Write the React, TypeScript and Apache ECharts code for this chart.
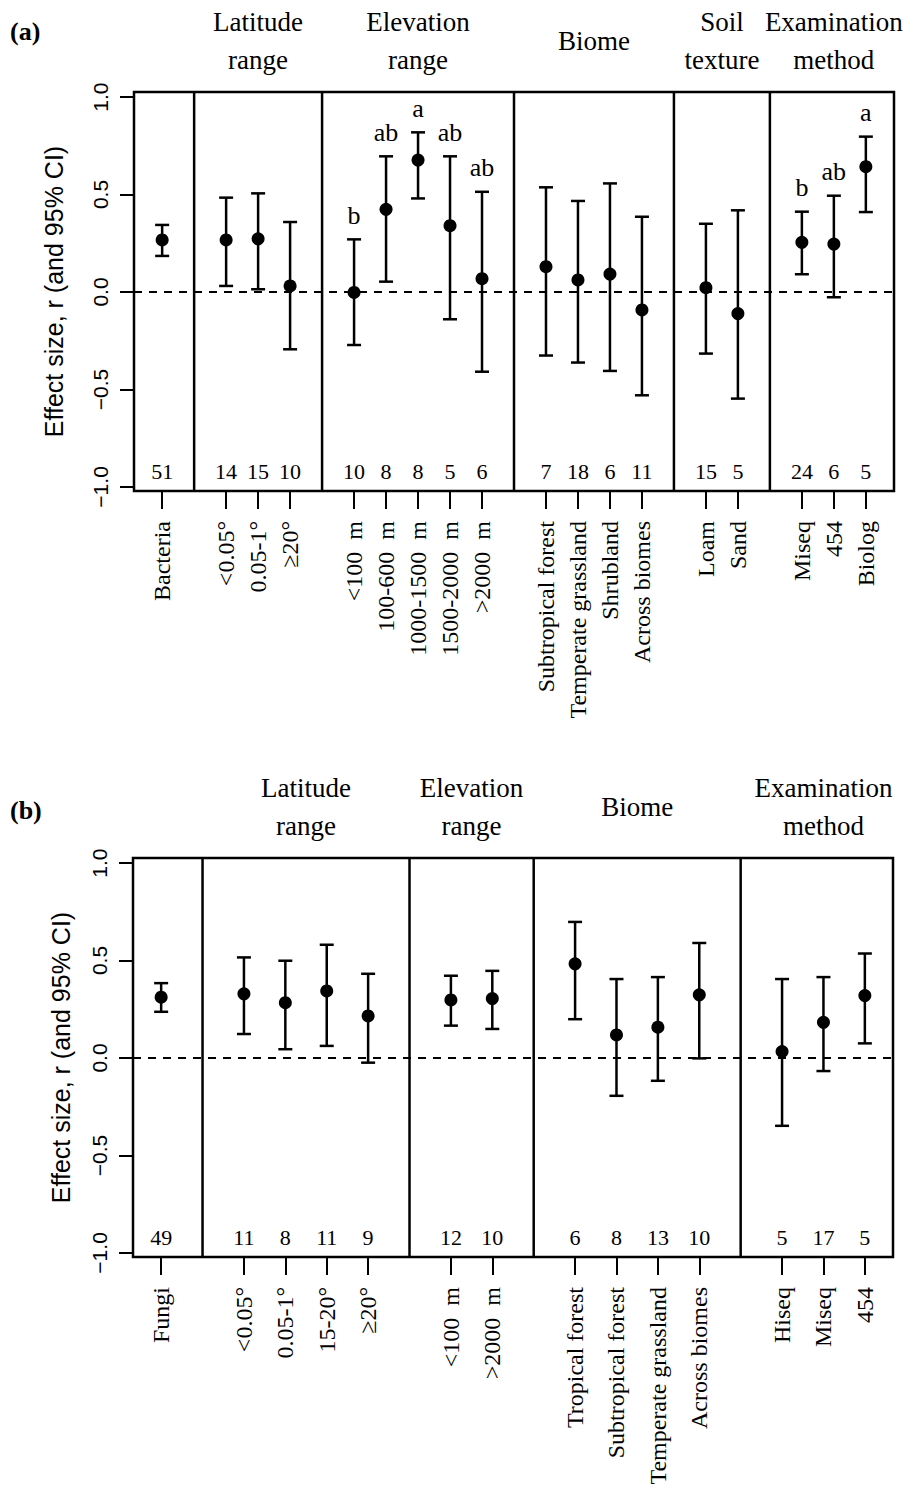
import React, { useEffect, useRef } from "react";
import * as echarts from "echarts";

const SERIF = '"Liberation Serif", "Times New Roman", serif';
const SANS = '"Liberation Sans", Arial, Helvetica, sans-serif';

// ---------- Panel (a): Bacteria ----------
const labelsA = ["Bacteria", "<0.05°", "0.05-1°", "≥20°", "<100  m", "100-600  m", "1000-1500  m", "1500-2000  m", ">2000  m", "Subtropical forest", "Temperate grassland", "Shrubland", "Across biomes", "Loam", "Sand", "Miseq", "454", "Biolog"];
const meanA = [0.267, 0.267, 0.273, 0.031, -0.002, 0.424, 0.677, 0.34, 0.068, 0.13, 0.062, 0.092, -0.092, 0.022, -0.111, 0.255, 0.246, 0.643];
const lowerA = [0.185, 0.031, 0.014, -0.294, -0.272, 0.053, 0.48, -0.14, -0.409, -0.326, -0.362, -0.405, -0.53, -0.316, -0.547, 0.091, -0.027, 0.41];
const upperA = [0.344, 0.484, 0.506, 0.359, 0.27, 0.696, 0.819, 0.696, 0.514, 0.537, 0.467, 0.557, 0.386, 0.35, 0.419, 0.412, 0.494, 0.797];
const nA = [51, 14, 15, 10, 10, 8, 8, 5, 6, 7, 18, 6, 11, 15, 5, 24, 6, 5];
const lettersA = ["", "", "", "", "b", "ab", "a", "ab", "ab", "", "", "", "", "", "", "b", "ab", "a"];
const groupTitlesA = ["", "Latitude\nrange", "Elevation\nrange", "Biome", "Soil\ntexture", "Examination\nmethod"];
const groupSizesA = [1, 3, 5, 4, 2, 3];

// ---------- Panel (b): Fungi ----------
const labelsB = ["Fungi", "<0.05°", "0.05-1°", "15-20°", "≥20°", "<100  m", ">2000  m", "Tropical forest", "Subtropical forest", "Temperate grassland", "Across biomes", "Hiseq", "Miseq", "454"];
const meanB = [0.312, 0.329, 0.284, 0.344, 0.216, 0.298, 0.305, 0.483, 0.118, 0.158, 0.324, 0.033, 0.183, 0.32];
const lowerB = [0.237, 0.123, 0.045, 0.062, -0.024, 0.166, 0.149, 0.199, -0.194, -0.117, -0.002, -0.348, -0.067, 0.075];
const upperB = [0.384, 0.516, 0.499, 0.581, 0.432, 0.422, 0.447, 0.698, 0.405, 0.415, 0.59, 0.405, 0.415, 0.536];
const nB = [49, 11, 8, 11, 9, 12, 10, 6, 8, 13, 10, 5, 17, 5];
const lettersB = ["", "", "", "", "", "", "", "", "", "", "", "", "", ""];
const groupTitlesB = ["", "Latitude\nrange", "Elevation\nrange", "Biome", "Examination\nmethod"];
const groupSizesB = [1, 4, 2, 4, 3];

const yTicks = [-1, -0.5, 0, 0.5, 1];
const Y_MIN = -1.021;
const Y_MAX = 1.026;
const N_LEVEL = -0.92;

function layoutGroups(sizes: number[]) {
  const positions: number[] = [];
  const dividers: number[] = [];
  const centers: number[] = [];
  let pos = 1;
  sizes.forEach((s, gi) => {
    for (let k = 0; k < s; k++) positions.push(pos + k);
    centers.push(pos + (s - 1) / 2);
    pos += s;
    if (gi < sizes.length - 1) {
      dividers.push(pos);
      pos += 1;
    }
  });
  return { positions, dividers, centers };
}

function buildPanel(
  idx: number,
  grid: { left: number; top: number; width: number; height: number },
  labels: string[], mean: number[], lower: number[], upper: number[], n: number[], letters: string[],
  titles: string[], sizes: number[], nameGap: number
) {
  const { positions, dividers, centers } = layoutGroups(sizes);
  const last = positions[positions.length - 1];
  const ext = 0.04 * (last - 1);
  const xMin = 1 - ext;
  const xMax = last + ext;
  const nameMap = new Map<number, string>();
  positions.forEach((p, i) => nameMap.set(p, labels[i]));

  const xAxis = {
    type: "value", gridIndex: idx, min: xMin, max: xMax, position: "bottom",
    axisLine: { show: false, onZero: false },
    splitLine: { show: false },
    axisTick: { show: true, customValues: positions, length: 18, lineStyle: { color: "#000", width: 2 } },
    axisLabel: {
      show: true, customValues: positions, rotate: 90, margin: 30,
      formatter: (v: number) => nameMap.get(Math.round(v)) ?? "",
      fontFamily: SERIF, fontSize: 24, color: "#000",
    },
  };
  const yAxis = {
    type: "value", gridIndex: idx, min: Y_MIN, max: Y_MAX, position: "left",
    name: "Effect size, r (and 95% CI)", nameLocation: "middle", nameRotate: 90, nameGap,
    nameTextStyle: { fontFamily: SANS, fontSize: 25, color: "#000" },
    axisLine: { show: false, onZero: false },
    splitLine: { show: false },
    axisTick: { show: true, customValues: yTicks, length: 14, lineStyle: { color: "#000", width: 2 } },
    axisLabel: {
      show: true, customValues: yTicks, rotate: 90, margin: 23,
      formatter: (v: number) => (v < 0 ? "−" : "") + Math.abs(v).toFixed(1),
      fontFamily: SANS, fontSize: 21, color: "#000",
    },
  };

  const points = positions.map((p, i) => [p, mean[i], lower[i], upper[i]]);

  const errSeries = {
    type: "custom", xAxisIndex: idx, yAxisIndex: idx, z: 5,
    data: points,
    renderItem: (params: any, api: any) => {
      const x = api.value(0);
      const c = api.coord([x, api.value(1)]);
      const lo = api.coord([x, api.value(2)]);
      const hi = api.coord([x, api.value(3)]);
      const nPt = api.coord([x, N_LEVEL]);
      const i = params.dataIndex;
      const stroke = { stroke: "#000", lineWidth: 2.5 };
      const children: any[] = [
        { type: "line", shape: { x1: c[0], y1: lo[1], x2: c[0], y2: hi[1] }, style: stroke },
        { type: "line", shape: { x1: c[0] - 7, y1: lo[1], x2: c[0] + 7, y2: lo[1] }, style: stroke },
        { type: "line", shape: { x1: c[0] - 7, y1: hi[1], x2: c[0] + 7, y2: hi[1] }, style: stroke },
        { type: "circle", shape: { cx: c[0], cy: c[1], r: 6.5 }, style: { fill: "#000" } },
        { type: "text", style: { text: String(n[i]), x: nPt[0], y: nPt[1], align: "center", verticalAlign: "middle", fontFamily: SERIF, fontSize: 22, fill: "#000" } },
      ];
      if (letters[i]) {
        children.push({ type: "text", style: { text: letters[i], x: hi[0], y: hi[1] - 24, align: "center", verticalAlign: "middle", fontFamily: SERIF, fontSize: 26, fill: "#000" } });
      }
      return { type: "group", children };
    },
  };

  const dividerSeries = {
    type: "custom", xAxisIndex: idx, yAxisIndex: idx, z: 4,
    data: dividers.map((d) => [d]),
    renderItem: (_p: any, api: any) => {
      const x = api.value(0);
      const a = api.coord([x, Y_MIN]);
      const b = api.coord([x, Y_MAX]);
      return { type: "line", shape: { x1: a[0], y1: a[1], x2: b[0], y2: b[1] }, style: { stroke: "#000", lineWidth: 2.5 } };
    },
  };

  const headerSeries = {
    type: "custom", xAxisIndex: idx, yAxisIndex: idx, z: 4,
    data: centers.map((cx, gi) => [cx, gi]),
    renderItem: (params: any, api: any) => {
      const t = titles[params.dataIndex];
      const p = api.coord([api.value(0), Y_MAX]);
      return { type: "text", style: { text: t, x: p[0], y: p[1] - 51, align: "center", verticalAlign: "middle", lineHeight: 38, fontFamily: SERIF, fontSize: 27, fill: "#000" } };
    },
  };

  const zeroSeries = {
    type: "line", xAxisIndex: idx, yAxisIndex: idx, z: 3,
    data: [[xMin, 0], [xMax, 0]],
    symbol: "none", silent: true,
    lineStyle: { color: "#000", width: 2, type: [8, 7] },
  };

  return {
    grid: { ...grid, show: true, borderColor: "#000", borderWidth: 2.5, backgroundColor: "transparent", containLabel: false },
    xAxis, yAxis,
    series: [zeroSeries, dividerSeries, errSeries, headerSeries],
  };
}

export default function App() {
  const ref = useRef<HTMLDivElement>(null);
  useEffect(() => {
    if (!ref.current) return;
    const chart = echarts.init(ref.current, undefined, { renderer: "svg" });
    const pa = buildPanel(0, { left: 134, top: 92, width: 760, height: 399 }, labelsA, meanA, lowerA, upperA, nA, lettersA, groupTitlesA, groupSizesA, 68);
    const pb = buildPanel(1, { left: 133, top: 858, width: 760, height: 399 }, labelsB, meanB, lowerB, upperB, nB, lettersB, groupTitlesB, groupSizesB, 60);
    chart.setOption({
      animation: false,
      backgroundColor: "#fff",
      grid: [pa.grid, pb.grid],
      xAxis: [pa.xAxis, pb.xAxis],
      yAxis: [pa.yAxis, pb.yAxis],
      series: [...pa.series, ...pb.series],
      graphic: [
        { type: "text", left: 10, top: 18, style: { text: "(a)", fontFamily: SERIF, fontSize: 26, fontWeight: "bold", fill: "#000" } },
        { type: "text", left: 10, top: 797, style: { text: "(b)", fontFamily: SERIF, fontSize: 26, fontWeight: "bold", fill: "#000" } },
      ],
    });
    return () => chart.dispose();
  }, []);
  return <div ref={ref} style={{ position: "absolute", left: 0, top: 0, width: 915, height: 1502 }} />;
}
